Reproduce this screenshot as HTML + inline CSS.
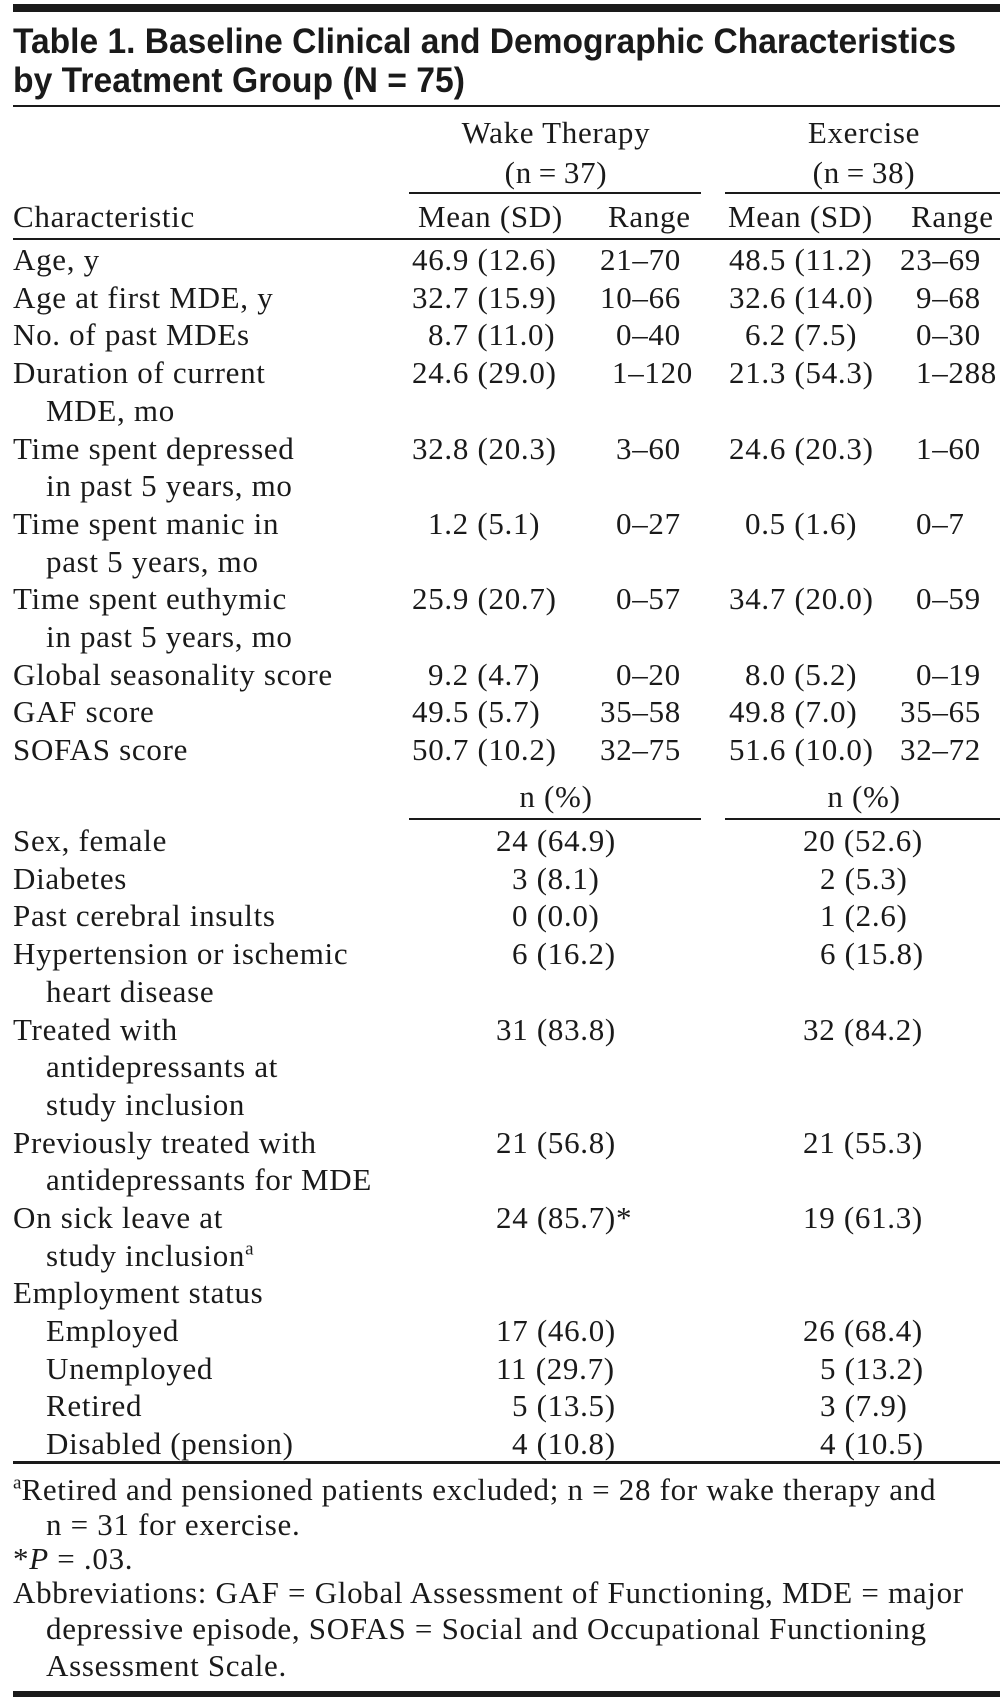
<!DOCTYPE html>
<html><head><meta charset="utf-8"><style>
html,body{margin:0;padding:0;background:#fff;}
body{width:1008px;height:1698px;position:relative;overflow:hidden;}
.t{position:absolute;font-family:"Liberation Serif",serif;font-size:31px;line-height:31px;letter-spacing:0.7px;white-space:nowrap;color:#1a1a1a;}
.c{width:400px;text-align:center;}
.r{position:absolute;background:#1a1a1a;}
sup{font-size:19px;line-height:0;vertical-align:super;letter-spacing:0;}
</style></head><body>
<div class="r" style="left:13px;top:4px;width:987px;height:8px"></div>
<svg style="position:absolute;left:0;top:0" width="1008" height="110">
<text x="13" y="53" font-family="Liberation Sans, sans-serif" font-weight="bold" font-size="35" fill="#1a1a1a" textLength="943" lengthAdjust="spacingAndGlyphs">Table 1. Baseline Clinical and Demographic Characteristics</text>
<text x="13" y="92" font-family="Liberation Sans, sans-serif" font-weight="bold" font-size="35" fill="#1a1a1a" textLength="452" lengthAdjust="spacingAndGlyphs">by Treatment Group (N = 75)</text>
</svg>
<div class="r" style="left:13px;top:105px;width:987px;height:2px"></div>
<div class="t c" style="left:356px;top:117px">Wake Therapy</div>
<div class="t c" style="left:356px;top:157px">(n&#8201;=&#8201;37)</div>
<div class="t c" style="left:664px;top:117px">Exercise</div>
<div class="t c" style="left:664px;top:157px">(n&#8201;=&#8201;38)</div>
<div class="r" style="left:409px;top:192px;width:292px;height:2px"></div>
<div class="r" style="left:725px;top:192px;width:275px;height:2px"></div>
<div class="t" style="left:13px;top:201px">Characteristic</div>
<div class="t" style="left:418px;top:201px">Mean (SD)</div>
<div class="t" style="left:608px;top:201px">Range</div>
<div class="t" style="left:728px;top:201px">Mean (SD)</div>
<div class="t" style="left:911px;top:201px">Range</div>
<div class="r" style="left:13px;top:238px;width:987px;height:2px"></div>

<div class="t" style="left:13px;top:244px">Age, y</div>
<div class="t" style="left:412px;top:244px">46.9 (12.6)</div><div class="t" style="left:600px;top:244px">21–70</div><div class="t" style="left:729px;top:244px">48.5 (11.2)</div><div class="t" style="left:900px;top:244px">23–69</div>

<div class="t" style="left:13px;top:282px">Age at first MDE, y</div>
<div class="t" style="left:412px;top:282px">32.7 (15.9)</div><div class="t" style="left:600px;top:282px">10–66</div><div class="t" style="left:729px;top:282px">32.6 (14.0)</div><div class="t" style="left:916px;top:282px">9–68</div>

<div class="t" style="left:13px;top:319px">No. of past MDEs</div>
<div class="t" style="left:428px;top:319px">8.7 (11.0)</div><div class="t" style="left:616px;top:319px">0–40</div><div class="t" style="left:745px;top:319px">6.2 (7.5)</div><div class="t" style="left:916px;top:319px">0–30</div>

<div class="t" style="left:13px;top:357px">Duration of current</div>
<div class="t" style="left:412px;top:357px">24.6 (29.0)</div><div class="t" style="left:612px;top:357px">1–120</div><div class="t" style="left:729px;top:357px">21.3 (54.3)</div><div class="t" style="left:916px;top:357px">1–288</div>
<div class="t" style="left:46px;top:395px">MDE, mo</div>

<div class="t" style="left:13px;top:433px">Time spent depressed</div>
<div class="t" style="left:412px;top:433px">32.8 (20.3)</div><div class="t" style="left:616px;top:433px">3–60</div><div class="t" style="left:729px;top:433px">24.6 (20.3)</div><div class="t" style="left:916px;top:433px">1–60</div>
<div class="t" style="left:46px;top:470px">in past 5 years, mo</div>

<div class="t" style="left:13px;top:508px">Time spent manic in</div>
<div class="t" style="left:428px;top:508px">1.2 (5.1)</div><div class="t" style="left:616px;top:508px">0–27</div><div class="t" style="left:745px;top:508px">0.5 (1.6)</div><div class="t" style="left:916px;top:508px">0–7</div>
<div class="t" style="left:46px;top:546px">past 5 years, mo</div>

<div class="t" style="left:13px;top:583px">Time spent euthymic</div>
<div class="t" style="left:412px;top:583px">25.9 (20.7)</div><div class="t" style="left:616px;top:583px">0–57</div><div class="t" style="left:729px;top:583px">34.7 (20.0)</div><div class="t" style="left:916px;top:583px">0–59</div>
<div class="t" style="left:46px;top:621px">in past 5 years, mo</div>

<div class="t" style="left:13px;top:659px">Global seasonality score</div>
<div class="t" style="left:428px;top:659px">9.2 (4.7)</div><div class="t" style="left:616px;top:659px">0–20</div><div class="t" style="left:745px;top:659px">8.0 (5.2)</div><div class="t" style="left:916px;top:659px">0–19</div>

<div class="t" style="left:13px;top:696px">GAF score</div>
<div class="t" style="left:412px;top:696px">49.5 (5.7)</div><div class="t" style="left:600px;top:696px">35–58</div><div class="t" style="left:729px;top:696px">49.8 (7.0)</div><div class="t" style="left:900px;top:696px">35–65</div>

<div class="t" style="left:13px;top:734px">SOFAS score</div>
<div class="t" style="left:412px;top:734px">50.7 (10.2)</div><div class="t" style="left:600px;top:734px">32–75</div><div class="t" style="left:729px;top:734px">51.6 (10.0)</div><div class="t" style="left:900px;top:734px">32–72</div>

<div class="t c" style="left:356px;top:781px">n (%)</div>
<div class="t c" style="left:664px;top:781px">n (%)</div>
<div class="r" style="left:409px;top:818px;width:292px;height:2px"></div>
<div class="r" style="left:725px;top:818px;width:275px;height:2px"></div>

<div class="t" style="left:13px;top:825px">Sex, female</div><div class="t" style="left:496px;top:825px">24 (64.9)</div><div class="t" style="left:803px;top:825px">20 (52.6)</div>
<div class="t" style="left:13px;top:863px">Diabetes</div><div class="t" style="left:512px;top:863px">3 (8.1)</div><div class="t" style="left:820px;top:863px">2 (5.3)</div>
<div class="t" style="left:13px;top:900px">Past cerebral insults</div><div class="t" style="left:512px;top:900px">0 (0.0)</div><div class="t" style="left:820px;top:900px">1 (2.6)</div>
<div class="t" style="left:13px;top:938px">Hypertension or ischemic</div><div class="t" style="left:512px;top:938px">6 (16.2)</div><div class="t" style="left:820px;top:938px">6 (15.8)</div>
<div class="t" style="left:46px;top:976px">heart disease</div>
<div class="t" style="left:13px;top:1014px">Treated with</div><div class="t" style="left:496px;top:1014px">31 (83.8)</div><div class="t" style="left:803px;top:1014px">32 (84.2)</div>
<div class="t" style="left:46px;top:1051px">antidepressants at</div>
<div class="t" style="left:46px;top:1089px">study inclusion</div>
<div class="t" style="left:13px;top:1127px">Previously treated with</div><div class="t" style="left:496px;top:1127px">21 (56.8)</div><div class="t" style="left:803px;top:1127px">21 (55.3)</div>
<div class="t" style="left:46px;top:1164px">antidepressants for MDE</div>
<div class="t" style="left:13px;top:1202px">On sick leave at</div><div class="t" style="left:496px;top:1202px">24 (85.7)*</div><div class="t" style="left:803px;top:1202px">19 (61.3)</div>
<div class="t" style="left:46px;top:1240px">study inclusion<sup>a</sup></div>
<div class="t" style="left:13px;top:1277px">Employment status</div>
<div class="t" style="left:46px;top:1315px">Employed</div><div class="t" style="left:496px;top:1315px">17 (46.0)</div><div class="t" style="left:803px;top:1315px">26 (68.4)</div>
<div class="t" style="left:46px;top:1353px">Unemployed</div><div class="t" style="left:496px;top:1353px">11 (29.7)</div><div class="t" style="left:820px;top:1353px">5 (13.2)</div>
<div class="t" style="left:46px;top:1390px">Retired</div><div class="t" style="left:512px;top:1390px">5 (13.5)</div><div class="t" style="left:820px;top:1390px">3 (7.9)</div>
<div class="t" style="left:46px;top:1428px">Disabled (pension)</div><div class="t" style="left:512px;top:1428px">4 (10.8)</div><div class="t" style="left:820px;top:1428px">4 (10.5)</div>

<div class="r" style="left:13px;top:1461px;width:987px;height:3px"></div>

<div class="t" style="left:13px;top:1474px"><sup>a</sup>Retired and pensioned patients excluded; n = 28 for wake therapy and</div>
<div class="t" style="left:46px;top:1509px">n = 31 for exercise.</div>
<div class="t" style="left:13px;top:1543px">*<i>P</i> = .03.</div>
<div class="t" style="left:13px;top:1577px">Abbreviations: GAF = Global Assessment of Functioning, MDE = major</div>
<div class="t" style="left:46px;top:1613px">depressive episode, SOFAS = Social and Occupational Functioning</div>
<div class="t" style="left:46px;top:1650px">Assessment Scale.</div>
<div class="r" style="left:13px;top:1691px;width:987px;height:6px"></div>
</body></html>
